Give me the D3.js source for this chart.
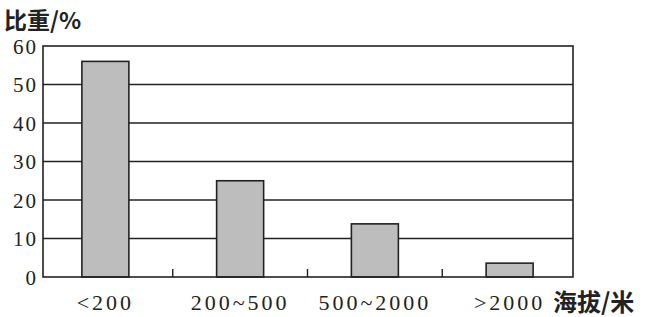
<!DOCTYPE html>
<html>
<head>
<meta charset="utf-8">
<script src="https://cdn.jsdelivr.net/npm/d3@7"></script>
<style>
  body { margin: 0; background: #fff; }
</style>
</head>
<body>
<div id="chart"></div>
<script>
// Data
var categories = ["<200", "200~500", "500~2000", ">2000"];
var shares = [56, 25, 13.8, 3.6];
var yTicks = [0, 10, 20, 30, 40, 50, 60];

// Chart Params
var svgWidth = 663;
var svgHeight = 317;
var margin = { top: 46, right: 90, bottom: 40, left: 43 };
var width = svgWidth - margin.left - margin.right;
var height = svgHeight - margin.top - margin.bottom;
var ink = "#222";
var serif = "Liberation Serif";
var cjk = "Noto Sans CJK SC";

var svg = d3.select("#chart")
  .append("svg")
  .attr("width", svgWidth)
  .attr("height", svgHeight);

var chartGroup = svg.append("g")
  .attr("transform", `translate(${margin.left}, ${margin.top})`);

// Scales (bands a bit wider than the frame, like the original)
var x = d3.scaleBand()
  .domain(categories)
  .range([-5, width + 4])
  .padding(0);

var y = d3.scaleLinear()
  .domain([0, 60])
  .range([height, 0]);

var barWidth = 47;

// Gridlines
chartGroup.selectAll(".grid")
  .data(yTicks.filter(d => d > 0 && d < 60))
  .enter()
  .append("line")
  .attr("x1", 0)
  .attr("x2", width)
  .attr("y1", d => y(d))
  .attr("y2", d => y(d))
  .attr("stroke", ink)
  .attr("stroke-width", 1.6);

// Bars
chartGroup.selectAll("rect.bar")
  .data(shares)
  .enter()
  .append("rect")
  .attr("class", "bar")
  .attr("x", (d, i) => x(categories[i]) + x.bandwidth() / 2 - barWidth / 2)
  .attr("y", d => y(d))
  .attr("width", barWidth)
  .attr("height", d => height - y(d))
  .attr("fill", "#bdbdbd")
  .attr("stroke", ink)
  .attr("stroke-width", 1.6);

// Frame
chartGroup.append("rect")
  .attr("x", 0)
  .attr("y", 0)
  .attr("width", width)
  .attr("height", height)
  .attr("fill", "none")
  .attr("stroke", ink)
  .attr("stroke-width", 1.6);

// Category separator ticks
chartGroup.selectAll(".sep")
  .data(categories.slice(1))
  .enter()
  .append("line")
  .attr("x1", d => x(d))
  .attr("x2", d => x(d))
  .attr("y1", height)
  .attr("y2", height - 8)
  .attr("stroke", ink)
  .attr("stroke-width", 1.4);

// Y axis labels
var leftAxis = d3.axisLeft(y).tickValues(yTicks).tickSize(0).tickPadding(5);
var yAxisG = chartGroup.append("g").call(leftAxis)
  .attr("font-family", serif)
  .attr("font-size", 21);
yAxisG.select(".domain").remove();
yAxisG.selectAll("text")
  .attr("fill", ink)
  .attr("dy", "0.34em")
  .style("letter-spacing", "2px");

// X axis labels
var bottomAxis = d3.axisBottom(x).tickSize(0).tickPadding(17);
var xAxisG = chartGroup.append("g")
  .attr("transform", `translate(0, ${height})`)
  .call(bottomAxis)
  .attr("font-family", serif)
  .attr("font-size", 22);
xAxisG.select(".domain").remove();
xAxisG.selectAll("text")
  .attr("fill", ink)
  .style("letter-spacing", "3px");

// Axis titles
svg.append("text")
  .attr("x", 4)
  .attr("y", 29)
  .attr("fill", ink)
  .attr("font-family", cjk)
  .attr("font-weight", "bold")
  .attr("font-size", 23)
  .text("比重/%");

svg.append("text")
  .attr("x", 553)
  .attr("y", 311)
  .attr("fill", ink)
  .attr("font-family", cjk)
  .attr("font-weight", "bold")
  .attr("font-size", 24)
  .text("海拔/米");
</script>
</body>
</html>
